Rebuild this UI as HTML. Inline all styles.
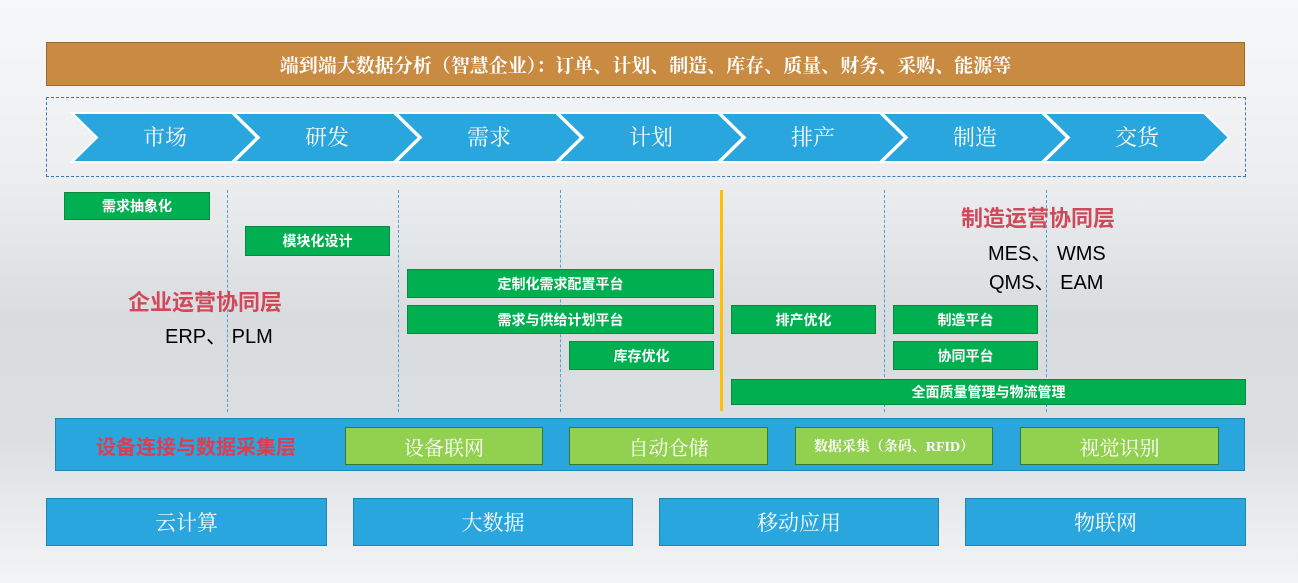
<!DOCTYPE html>
<html><head><meta charset="utf-8"><style>
body{margin:0;width:1298px;height:583px;overflow:hidden;font-family:"Liberation Sans","Noto Sans CJK SC",sans-serif;background:linear-gradient(#f7f8f9 0%,#eceef0 30%,#d9dcdf 55%,#dcdfe2 75%,#f3f4f5 100%);position:relative}
.a{position:absolute;box-sizing:border-box;display:flex;align-items:center;justify-content:center}
.g{background:#00b050;color:#fff;font-weight:bold;font-size:14px;border:1px solid #0a8a40}
.lg{background:#92d050;color:#fff;font-size:20px;border:1px solid #2e7d32;font-family:"Liberation Serif","Noto Serif CJK SC",serif}
.bb{background:#29a6de;color:#fff;font-size:21px;border:1px solid #1c86b8;font-family:"Liberation Serif","Noto Serif CJK SC",serif}
.v{position:absolute;width:0;border-left:1px dashed #4aa3d6;top:190px;height:222px}
</style></head><body>
<div class="a" style="left:46px;top:42px;width:1199px;height:44px;background:#c98a42;border:1px solid #9a6a30;color:#fff;font-size:19px;font-weight:bold;font-family:'Liberation Serif','Noto Serif CJK SC',serif">端到端大数据分析（智慧企业）：订单、计划、制造、库存、质量、财务、采购、能源等</div>
<div style="position:absolute;left:46px;top:97px;width:1198px;height:78px;border:1px dashed #3a7ab0"></div>
<svg style="position:absolute;left:0;top:0" width="1298" height="583">
<g fill="#29a6de" stroke="#ffffff" stroke-width="2">
<polygon points="72,113 232,113 257,137.5 232,162 72,162 97,137.5"/>
<polygon points="234,113 394,113 419,137.5 394,162 234,162 259,137.5"/>
<polygon points="396,113 556,113 581,137.5 556,162 396,162 421,137.5"/>
<polygon points="558,113 718,113 743,137.5 718,162 558,162 583,137.5"/>
<polygon points="720,113 880,113 905,137.5 880,162 720,162 745,137.5"/>
<polygon points="882,113 1042,113 1067,137.5 1042,162 882,162 907,137.5"/>
<polygon points="1044,113 1204,113 1229,137.5 1204,162 1044,162 1069,137.5"/>
</g>
<g fill="#fff" font-size="22" text-anchor="middle" font-family="Liberation Serif,Noto Serif CJK SC,serif">
<text x="165" y="145">市场</text><text x="327" y="145">研发</text><text x="489" y="145">需求</text><text x="651" y="145">计划</text><text x="813" y="145">排产</text><text x="975" y="145">制造</text><text x="1137" y="145">交货</text>
</g></svg>
<div class="v" style="left:227px"></div><div class="v" style="left:398px"></div><div class="v" style="left:560px"></div><div class="v" style="left:884px"></div><div class="v" style="left:1046px"></div>
<div style="position:absolute;left:720px;top:190px;width:3px;height:221px;background:#ffc000"></div>
<div class="a g" style="left:64px;top:192px;width:146px;height:28px">需求抽象化</div>
<div class="a g" style="left:245px;top:226px;width:145px;height:30px">模块化设计</div>
<div class="a g" style="left:407px;top:269px;width:307px;height:29px">定制化需求配置平台</div>
<div class="a g" style="left:407px;top:305px;width:307px;height:29px">需求与供给计划平台</div>
<div class="a g" style="left:569px;top:341px;width:145px;height:29px">库存优化</div>
<div class="a g" style="left:731px;top:305px;width:145px;height:29px">排产优化</div>
<div class="a g" style="left:893px;top:305px;width:145px;height:29px">制造平台</div>
<div class="a g" style="left:893px;top:341px;width:145px;height:29px">协同平台</div>
<div class="a g" style="left:731px;top:379px;width:515px;height:26px">全面质量管理与物流管理</div>
<div style="position:absolute;left:128px;top:285px;color:#d0485a;font-size:22px;font-weight:bold">企业运营协同层</div>
<div style="position:absolute;left:165px;top:320px;color:#000;font-size:20px">ERP、 PLM</div>
<div style="position:absolute;left:961px;top:201px;color:#d0485a;font-size:22px;font-weight:bold">制造运营协同层</div>
<div style="position:absolute;left:988px;top:237px;color:#000;font-size:20px">MES、 WMS</div>
<div style="position:absolute;left:989px;top:266px;color:#000;font-size:20px">QMS、 EAM</div>
<div style="position:absolute;left:55px;top:418px;width:1190px;height:53px;background:#29a6de;border:1px solid #1c86b8;box-sizing:border-box"></div>
<div style="position:absolute;left:96px;top:431px;color:#e03c50;font-size:20px;font-weight:bold">设备连接与数据采集层</div>
<div class="a lg" style="left:345px;top:427px;width:198px;height:38px">设备联网</div>
<div class="a lg" style="left:569px;top:427px;width:199px;height:38px">自动仓储</div>
<div class="a lg" style="left:795px;top:427px;width:198px;height:38px;font-size:14px;font-weight:bold">数据采集（条码、RFID）</div>
<div class="a lg" style="left:1020px;top:427px;width:199px;height:38px">视觉识别</div>
<div class="a bb" style="left:46px;top:498px;width:281px;height:48px">云计算</div>
<div class="a bb" style="left:353px;top:498px;width:280px;height:48px">大数据</div>
<div class="a bb" style="left:659px;top:498px;width:280px;height:48px">移动应用</div>
<div class="a bb" style="left:965px;top:498px;width:281px;height:48px">物联网</div>
</body></html>
